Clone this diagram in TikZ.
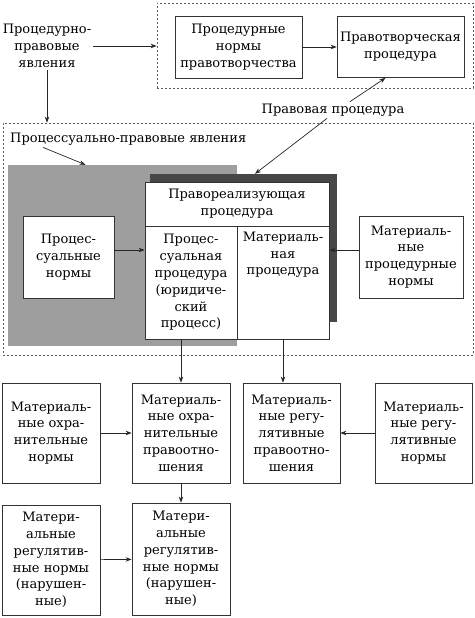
\documentclass[tikz,border=0pt]{standalone}
\usepackage{fontspec}
\setmainfont{DejaVu Serif}
\usetikzlibrary{arrows.meta}

\begin{document}
\begin{tikzpicture}
            [x=1pt,y=-1pt,>={Stealth[length=6pt,width=4.5pt]},
             every node/.style={font=\fontsize{13}{16.8}\selectfont,align=center,inner sep=2pt},
             box/.style={draw=black!80,line width=0.8pt,fill=white},
             frame/.style={draw=black!65,line width=0.8pt,dash pattern=on 2pt off 2pt},
             arr/.style={->,line width=0.7pt,black!85}]

            \useasboundingbox (0,0) rectangle (474,618);

            % frames
            \node[frame,minimum width=316,minimum height=85] (topframe) at (315,45.5) {};
            \node[frame,minimum width=470,minimum height=232] (bigframe) at (238,239) {};
            \node[anchor=west] (pslabel) at (8,139) {Процессуально-правовые явления};

            % top part
            \node (proc) at (47,46) {Процедурно-\\правовые\\явления};
            \node[box,minimum width=127,minimum height=62] (pnp) at (238.5,47) {Процедурные\\нормы\\правотворчества};
            \node[box,minimum width=127,minimum height=61] (ptp) at (400.5,47) {Правотворческая\\процедура};
            \node (pplabel) at (333,110) {Правовая процедура};

            % shaded blocks
            \node[fill=black!38,minimum width=229,minimum height=181] (gray) at (122.5,255.5) {};
            \node[fill=black!72,minimum width=187,minimum height=148] (shadow) at (243.5,248) {};
            \node[box,minimum width=184,minimum height=44] (head) at (237,204) {Правореализующая\\процедура};
            \node[box,minimum width=92,minimum height=113] (lsub) at (191,282.5) {Процес-\\суальная\\процедура\\(юридиче-\\ский\\процесс)};
            \node[box,minimum width=92,minimum height=113] (rsub) at (283,282.5) {};
            \node[anchor=north] (rtext) at ([yshift=-4pt]rsub.north) {Материаль-\\ная\\процедура};
            \node[box,minimum width=91,minimum height=82] (pn) at (68.5,257) {Процес-\\суальные\\нормы};
            \node[box,minimum width=104,minimum height=82] (mpn) at (411,257) {Материаль-\\ные\\процедурные\\нормы};

            % lower rows
            \node[box,minimum width=98,minimum height=100] (mon) at (51,433) {Материаль-\\ные охра-\\нительные\\нормы};
            \node[box,minimum width=98,minimum height=100] (mop) at (181,433) {Материаль-\\ные охра-\\нительные\\правоотно-\\шения};
            \node[box,minimum width=97,minimum height=100] (mrp) at (291.5,433) {Материаль-\\ные регу-\\лятивные\\правоотно-\\шения};
            \node[box,minimum width=97,minimum height=100] (mrn) at (423.5,433) {Материаль-\\ные регу-\\лятивные\\нормы};
            \node[box,minimum width=98,minimum height=110] (mrnl) at (51,560) {Матери-\\альные\\регулятив-\\ные нормы\\(нарушен-\\ные)};
            \node[box,minimum width=98,minimum height=112] (mrnr) at (181,559) {Матери-\\альные\\регулятив-\\ные нормы\\(нарушен-\\ные)};

            \draw[arr] (proc.east) -- (proc.east -| topframe.west);
            \draw[arr] (proc.south) -- (proc.south |- bigframe.north);
            \draw[arr] (pnp) -- (ptp);
            \draw[arr] ([xshift=17pt]pplabel.north) -- ([xshift=-15pt]ptp.south);
            \draw[arr] ([xshift=-6pt]pplabel.south) -- ([xshift=11.5pt]shadow.north);
            \draw[arr] ([xshift=35pt]pslabel.south west) -- ([xshift=-37pt]gray.north);
            \draw[arr] ([yshift=7pt]pn.east) -- ([yshift=7pt]pn.east -| lsub.west);
            \draw[arr] ([yshift=7pt]mpn.west) -- ([yshift=7pt]mpn.west -| rsub.east);
            \draw[arr] (mop.north |- lsub.south) -- (mop.north);
            \draw[arr] (rsub.south) -- (rsub.south |- mrp.north);
            \draw[arr] (mon) -- (mop);
            \draw[arr] (mrn) -- (mrp);
            \draw[arr] (mop) -- (mrnr);
            \draw[arr] (mrnl) -- (mrnr);
          \end{tikzpicture}
\end{document}
